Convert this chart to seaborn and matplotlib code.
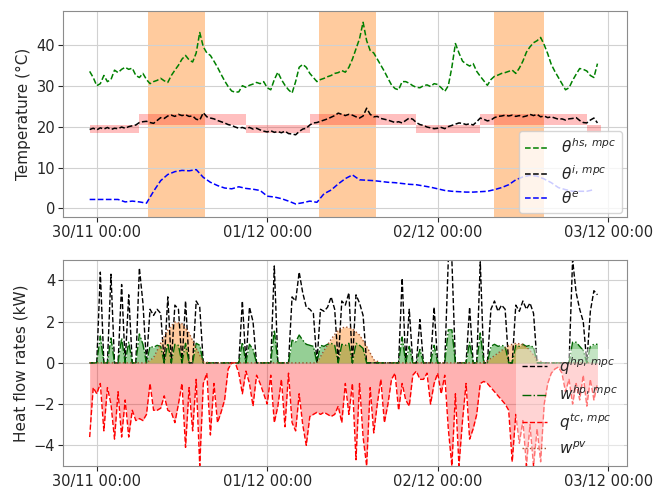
import numpy as np
import pandas as pd
import matplotlib
matplotlib.use('Agg')
import matplotlib.pyplot as plt
import matplotlib.dates as mdates
import seaborn as sns

# ---------------- data ----------------
start = '2020-11-29 23:00'   # first sample, 30-min resolution series

theta_hs = [33.5, 32.0, 30.0, 30.5, 32.5, 31.0, 31.5, 33.8, 33.2, 34.0,
            34.5, 34.0, 34.3, 32.5, 32.0, 33.0, 31.5, 30.5, 31.0, 31.3,
            31.8, 31.2, 30.8, 32.5, 33.8, 35.0, 36.5, 37.4, 36.3, 35.8,
            38.0, 43.0, 39.5, 38.0, 37.4, 36.0, 34.5, 32.8, 31.2, 29.8,
            28.7, 28.4, 28.5, 30.0, 29.6, 30.1, 30.4, 30.8, 30.5, 31.0,
            29.5, 29.0, 31.5, 33.3, 31.5, 30.1, 29.0, 28.2, 31.0, 34.5,
            35.2, 34.5, 33.0, 32.0, 31.0, 31.5, 31.8, 32.2, 32.5, 33.0,
            33.2, 33.7, 33.3, 34.5, 36.5, 39.0, 41.5, 45.5, 41.0, 38.6,
            38.0, 36.5, 35.0, 33.5, 31.8, 30.2, 29.3, 29.0, 31.0, 31.0,
            30.6, 30.0, 29.6, 29.5, 30.0, 30.2, 29.8, 30.5, 30.3, 29.5,
            28.6, 30.0, 34.5, 40.3, 38.0, 36.0, 35.3, 34.8, 35.4, 33.5,
            32.3, 31.2, 30.1, 31.5, 32.3, 32.6, 33.0, 33.2, 33.5, 33.8,
            33.0, 34.3, 36.0, 38.2, 39.5, 40.5, 41.0, 41.8, 40.0, 37.8,
            35.2, 33.5, 32.0, 30.5, 29.0, 29.5, 31.3, 32.8, 34.2, 34.0,
            33.6, 32.5, 32.0, 35.4]

theta_i = [19.3, 19.6, 19.2, 19.7, 19.4, 19.8, 19.3, 19.6, 19.5, 19.9,
           19.6, 20.0, 20.2, 20.4, 21.0, 21.2, 21.3, 21.0, 20.8, 21.5,
           22.2, 22.0, 22.6, 22.8, 22.5, 23.0, 22.7, 22.9, 22.5, 22.6,
           21.8, 21.6, 23.4, 22.4, 22.1, 21.9, 21.5, 21.2, 20.9, 20.5,
           20.3, 19.9, 19.6, 19.8, 19.5, 19.8, 19.4, 19.6, 19.2, 18.9,
           18.7, 19.0, 18.6, 18.8, 18.5, 18.9, 18.3, 18.2, 18.0, 18.8,
           19.4, 19.6, 20.4, 20.9, 21.0, 21.3, 21.6, 21.9, 22.3, 22.7,
           23.3, 23.0, 22.7, 23.0, 22.8, 22.4, 22.1, 22.6, 24.5, 23.0,
           22.4, 22.5, 22.0, 21.8, 21.6, 21.3, 21.0, 21.2, 20.9, 21.5,
           22.1, 21.8, 21.0, 20.5, 20.3, 19.9, 19.7, 19.5, 19.6, 19.8,
           19.5, 20.0, 20.3, 20.6, 20.9, 20.8, 20.5, 20.7, 20.4, 21.2,
           22.1, 21.8, 21.4, 21.6, 22.2, 22.5, 22.6, 22.8, 22.6, 22.8,
           22.5, 22.7, 22.4, 22.6, 23.0, 22.7, 23.0, 22.4, 22.6, 22.2,
           22.4, 22.1, 21.8, 21.9, 21.6, 21.9, 22.0, 22.2, 21.5, 21.0,
           20.9, 21.6, 22.1, 20.9]

# hourly series
theta_e = [2.2, 2.2, 2.2, 2.2, 2.2, 1.6, 1.8, 1.6, 1.3, 4.2,
           6.8, 8.3, 9.0, 9.3, 9.2, 9.5, 7.6, 6.4, 5.6, 5.0,
           4.8, 5.3, 4.9, 4.7, 4.4, 3.0, 2.8, 2.4, 1.8, 1.1,
           1.4, 1.8, 1.5, 3.6, 4.5, 6.0, 7.3, 8.2, 7.0, 6.9,
           6.8, 6.6, 6.4, 6.3, 6.1, 5.9, 5.8, 5.5, 5.2, 4.8,
           4.4, 4.2, 4.1, 4.0, 4.0, 4.1, 4.2, 4.6, 5.1, 5.8,
           7.0, 7.7, 8.1, 7.9, 7.2, 6.3, 5.1, 4.6, 4.2, 4.2,
           4.2, 4.6]

# comfort band (step segments)
band_times = ['2020-11-29 23:00', '2020-11-30 06:00', '2020-11-30 21:00',
              '2020-12-01 06:00', '2020-12-01 21:00', '2020-12-02 06:00',
              '2020-12-02 21:00', '2020-12-02 23:00']
band_lo = [18.5, 20.5, 18.5, 20.5, 18.5, 20.5, 18.5, 18.5]
band_hi = [20.5, 23.2, 20.5, 23.2, 20.5, 23.2, 20.5, 20.5]

# orange periods
span_start = ['2020-11-30 07:15', '2020-12-01 07:15', '2020-12-02 08:00']
span_end = ['2020-11-30 15:15', '2020-12-01 15:15', '2020-12-02 15:00']

# heat flows (30-min)
q_hp = [0, 0, 0, 4.4, 0, 0, 4.3, 0, 0, 3.8,
        0, 3.3, 0, 0, 4.6, 2.9, 0, 2.6, 2.3, 2.6,
        2.4, 0, 3.2, 0, 2.8, 2.6, 0, 3.0, 0, 0,
        3.0, 2.7, 0, 0, 0, 0, 0, 0, 0, 0,
        0, 0, 0, 3.0, 0, 2.7, 2.0, 0, 0, 0,
        0, 0, 4.7, 0, 0, 0, 0, 3.2, 3.0, 4.4,
        3.4, 2.7, 2.6, 2.4, 0, 2.6, 2.5, 2.7, 3.2, 2.6,
        0, 3.0, 2.8, 3.4, 0, 3.3, 2.9, 2.3, 0, 0,
        0, 0, 0, 0, 0, 0, 0, 0, 4.1, 0,
        2.6, 0, 0, 2.1, 0, 0, 0, 2.7, 0, 0,
        0, 5.0, 5.0, 0, 0, 0, 0, 2.7, 0, 0,
        4.9, 0, 0, 2.6, 3.0, 2.5, 2.8, 2.6, 0, 0,
        2.8, 2.5, 3.0, 2.6, 2.9, 2.4, 0, 0, 0, 0,
        0, 0, 0, 0, 0, 0, 5.0, 3.4, 2.6, 2.0,
        0, 2.5, 3.5, 3.3]

w_hp = [0, 0, 0, 1.3, 0, 0, 1.2, 0, 0, 1.2,
        0, 1.0, 0, 0, 1.4, 0.9, 0, 0.8, 0.75, 0.85,
        0.8, 0, 0.95, 0, 0.9, 0.85, 0, 0.95, 0, 0,
        0.95, 0.85, 0, 0, 0, 0, 0, 0, 0, 0,
        0, 0, 0, 1.0, 0, 0.9, 0.65, 0, 0, 0,
        0, 0, 1.6, 0, 0, 0, 0, 1.1, 1.0, 1.35,
        1.1, 0.9, 0.85, 0.8, 0, 0.85, 0.8, 0.9, 0.95, 0.85,
        0, 0.9, 0.85, 0.95, 0, 0.95, 0.85, 0.7, 0, 0,
        0, 0, 0, 0, 0, 0, 0, 0, 1.25, 0,
        0.8, 0, 0, 0.65, 0, 0, 0, 0.85, 0, 0,
        0, 1.6, 1.6, 0, 0, 0, 0, 1.0, 0, 0,
        1.45, 0, 0, 0.8, 0.9, 0.8, 0.85, 0.8, 0, 0,
        0.85, 0.8, 0.9, 0.8, 0.85, 0.75, 0, 0, 0, 0,
        0, 0, 0, 0, 0, 0, 1.0, 1.0, 0.8, 0.6,
        0, 0.8, 0.9, 0.9]

q_tc = [-3.6, -1.2, -1.5, -1.0, -3.3, -1.2, -2.0, -3.7, -1.4, -3.6,
        -1.8, -3.6, -2.3, -2.8, -2.7, -2.8, -2.5, -1.0, -2.3, -2.3,
        -2.2, -1.6, -2.3, -2.4, -2.9, -2.0, -1.0, -4.1, -1.2, -3.3,
        -0.8, -5.0, -1.0, -0.5, -3.5, -1.0, -2.9, -2.4, -1.8, -0.3,
        0, 0, -0.5, -1.5, -0.4, -1.0, -2.1, -0.6, -1.0, -1.5,
        -2.0, -0.6, -2.9, -2.1, -0.8, -3.1, -0.5, -2.9, -3.3, -1.5,
        -3.0, -4.0, -2.6, -2.5, -2.4, -2.5, -2.4, -2.5, -2.6, -2.5,
        -2.1, -2.9, -1.0, -2.5, -1.0, -4.7, -1.0, -3.6, -5.0, -1.2,
        -3.4, -2.0, -0.8, -2.9, -2.0, -0.8, -0.5, -2.3, -1.0, -1.8,
        -2.1, -0.6, -0.4, -0.8, -0.8, -0.5, -2.0, -1.0, -0.5, -1.5,
        -0.6, -3.2, -5.0, -1.5, -5.0, -2.8, -1.0, -3.7, -3.2, -2.5,
        -1.0, -0.9, -1.0, -1.2, -1.4, -1.6, -1.8, -2.0, -2.3, -4.8,
        -2.5, -3.9, -2.8, -5.0, -3.0, -5.0, -3.2, -4.8, -2.0, -1.0,
        -0.5, -0.3, -0.2, -0.5, -1.4, -0.8, -2.0, -1.0, -1.8, -0.6,
        -2.1, -0.8, -1.8, -1.0]

# PV power (hourly)
w_pv = [0, 0, 0, 0, 0, 0, 0, 0, 0, 0.25,
        0.95, 1.6, 1.98, 1.9, 1.45, 0.7, 0.05, 0, 0, 0,
        0, 0, 0, 0, 0, 0, 0, 0, 0, 0,
        0, 0, 0, 0.6, 1.15, 1.6, 1.75, 1.65, 1.35, 0.8,
        0.15, 0, 0, 0, 0, 0, 0, 0, 0, 0,
        0, 0, 0, 0, 0, 0, 0.1, 0.35, 0.6, 0.85,
        0.95, 0.9, 0.6, 0.15, 0, 0, 0, 0, 0, 0,
        0, 0]

x_ticks = ['2020-11-30', '2020-12-01', '2020-12-02', '2020-12-03']
temp_ticks = [0, 10, 20, 30, 40]
flow_ticks = [-4, -2, 0, 2, 4]

# ---------------- styling ----------------
sns.set_style('whitegrid', {'axes.edgecolor': '0.55', 'grid.color': '0.82',
                            'xtick.bottom': True, 'ytick.left': True,
                            'xtick.color': '0.15', 'ytick.color': '0.15'})
plt.rcParams['font.family'] = ['DejaVu Sans']
plt.rcParams['xtick.major.size'] = 3.5
plt.rcParams['ytick.major.size'] = 3.5

fig = plt.figure(figsize=(6.67, 4.92), dpi=100)
ax1 = fig.add_axes([0.0945, 0.5580, 0.8456, 0.420])
ax2 = fig.add_axes([0.0945, 0.0530, 0.8456, 0.4190])

t_half = pd.date_range(start, periods=len(theta_hs), freq='30min')
t_hour = pd.date_range(start, periods=len(theta_e), freq='60min')
t_flow = pd.date_range(start, periods=len(q_hp), freq='30min')
t_pv = pd.date_range(start, periods=len(w_pv), freq='60min')
band_t = pd.to_datetime(band_times)

# ---------------- top: temperatures ----------------
for s, e in zip(span_start, span_end):
    ax1.axvspan(pd.Timestamp(s), pd.Timestamp(e), color='#ff7f0e', alpha=0.4, lw=0, zorder=0.5)
ax1.fill_between(band_t, band_lo, band_hi, step='post', color='red', alpha=0.25, lw=0, zorder=0.6)

sns.lineplot(x=t_half, y=theta_hs, ax=ax1, color='green', linestyle='--', lw=1.1,
             label=r'$\theta^{hs,\,mpc}$')
sns.lineplot(x=t_half, y=theta_i, ax=ax1, color='black', linestyle='--', lw=1.1,
             label=r'$\theta^{i,\,mpc}$')
sns.lineplot(x=t_hour, y=theta_e, ax=ax1, color='blue', linestyle='--', lw=1.1,
             label=r'$\theta^{e}$')

ax1.set_ylim(-2.2, 48.3)
ax1.set_yticks(temp_ticks)
ax1.set_ylabel('Temperature (°C)', fontsize=11)
ax1.legend(loc='lower right', fontsize=11, handlelength=1.6, framealpha=0.8,
           borderaxespad=0.3)

# ---------------- bottom: heat flows ----------------
ax2.fill_between(t_flow, 0, q_tc, color='red', alpha=0.3, lw=0)
ax2.fill_between(t_flow, 0, w_hp, color='#2ca02c', alpha=0.5, lw=0)
ax2.fill_between(t_pv, 0, w_pv, color='#ff7f0e', alpha=0.4, lw=0)

sns.lineplot(x=t_flow, y=q_hp, ax=ax2, color='black', linestyle='--', lw=1.0,
             label=r'$q^{hp,\,mpc}$')
sns.lineplot(x=t_flow, y=w_hp, ax=ax2, color='darkgreen', linestyle='-.', lw=1.0,
             label=r'$w^{hp,\,mpc}$')
sns.lineplot(x=t_flow, y=q_tc, ax=ax2, color='red', linestyle='--', lw=1.0,
             label=r'$q^{tc,\,mpc}$')
sns.lineplot(x=t_pv, y=w_pv, ax=ax2, color='sienna', linestyle=':', lw=1.0,
             label=r'$w^{pv}$')

ax2.set_ylim(-5, 5)
ax2.set_yticks(flow_ticks)
ax2.set_ylabel('Heat flow rates (kW)', fontsize=11)
ax2.legend(loc='lower right', fontsize=11, handlelength=1.6, framealpha=0.45,
           borderaxespad=0.2, edgecolor='none')

for ax in (ax1, ax2):
    ax.set_xlim(pd.Timestamp('2020-11-29 19:15'), pd.Timestamp('2020-12-03 02:40'))
    ax.set_xticks(pd.to_datetime(x_ticks))
    ax.xaxis.set_major_formatter(mdates.DateFormatter('%d/%m %H:%M'))
    ax.tick_params(labelsize=10.5, pad=2)
    ax.set_xlabel('')

fig.savefig('out.png', dpi=100)
